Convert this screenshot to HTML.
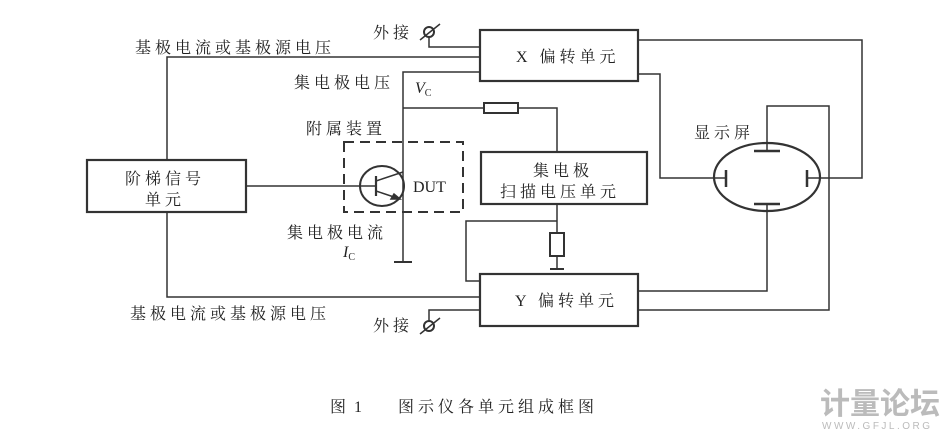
<!DOCTYPE html>
<html><head><meta charset="utf-8"><style>
body{margin:0;background:#fff}
svg{display:block}
text{font-family:"Liberation Serif","Noto Serif CJK SC","Noto Sans CJK SC",serif;fill:#222}
</style></head><body>
<svg width="947" height="435" viewBox="0 0 947 435" xmlns="http://www.w3.org/2000/svg">
<g fill="none" stroke="#333" stroke-width="1.5">
<rect x="87" y="160" width="159" height="52" stroke-width="2.2"/>
<rect x="480" y="30" width="158" height="51" stroke-width="2.2"/>
<rect x="481" y="152" width="166" height="52" stroke-width="2.2"/>
<rect x="480" y="274" width="158" height="52" stroke-width="2.2"/>
<polyline points="480,57 167,57 167,160"/>
<polyline points="167,212 167,297 480,297"/>
<line x1="246" y1="186" x2="376" y2="186"/>
<polyline points="480,72 403,72 403,262"/>
<line x1="394" y1="262" x2="412" y2="262" stroke-width="2"/>
<polyline points="403,108 484,108"/>
<rect x="484" y="103" width="34" height="10" stroke-width="2"/>
<polyline points="518,108 557,108 557,152"/>
<polyline points="557,204 557,233"/>
<polyline points="557,221 466,221 466,281 480,281"/>
<rect x="550" y="233" width="14" height="23" stroke-width="2"/>
<line x1="557" y1="256" x2="557" y2="269"/>
<line x1="550" y1="269" x2="564" y2="269" stroke-width="2"/>
<polyline points="429,37 429,47 480,47"/>
<polyline points="429,321 429,310 480,310"/>
<circle cx="429" cy="32" r="5" stroke-width="2"/>
<line x1="420" y1="40" x2="440" y2="24"/>
<circle cx="429" cy="326" r="5" stroke-width="2"/>
<line x1="420" y1="334" x2="440" y2="318"/>
<rect x="344" y="142" width="119" height="70" stroke-dasharray="10,6" stroke-width="2"/>
<ellipse cx="382" cy="186" rx="22" ry="20" stroke-width="2"/>
<line x1="376" y1="176" x2="376" y2="196" stroke-width="2.2"/>
<line x1="376" y1="181" x2="403" y2="172"/>
<line x1="376" y1="191" x2="400" y2="199"/>
<polygon points="400,199 391,199 394,194" fill="#333"/>
<polyline points="638,40 862,40 862,178 808,178"/>
<polyline points="638,74 660,74 660,178 726,178"/>
<ellipse cx="767" cy="177" rx="53" ry="34" stroke-width="2.2"/>
<line x1="726" y1="170" x2="726" y2="187" stroke-width="2.5"/>
<line x1="807" y1="170" x2="807" y2="187" stroke-width="2.5"/>
<line x1="754" y1="151" x2="780" y2="151" stroke-width="2.5"/>
<line x1="754" y1="204" x2="780" y2="204" stroke-width="2.5"/>
<polyline points="767,151 767,106 829,106 829,310 638,310"/>
<polyline points="767,204 767,291 638,291"/>
</g>
<g font-size="16" letter-spacing="4">
<text x="135" y="53">基极电流或基极源电压</text>
<text x="130" y="319">基极电流或基极源电压</text>
<text x="373" y="38">外接</text>
<text x="373" y="331">外接</text>
<text x="294" y="88">集电极电压</text>
<text x="415" y="93" font-style="italic" letter-spacing="0">V<tspan font-size="10" font-style="normal" dy="3">C</tspan></text>
<text x="306" y="134">附属装置</text>
<text x="287" y="238">集电极电流</text>
<text x="343" y="257" font-style="italic" letter-spacing="0">I<tspan font-size="10" font-style="normal" dy="3">C</tspan></text>
<text x="413" y="192" font-family="Liberation Serif,serif" letter-spacing="0">DUT</text>
<text x="125" y="184">阶梯信号</text>
<text x="145" y="205">单元</text>
<text x="516" y="62">X 偏转单元</text>
<text x="515" y="306">Y 偏转单元</text>
<text x="533" y="176">集电极</text>
<text x="500" y="197">扫描电压单元</text>
<text x="694" y="138">显示屏</text>
<text x="330" y="412" letter-spacing="2">图 1</text>
<text x="398" y="412">图示仪各单元组成框图</text>
</g>
<text x="820" y="414" font-size="30" style="fill:#bbb;font-family:'Noto Sans CJK SC',sans-serif" font-weight="bold">计量论坛</text>
<text x="822" y="429" font-size="10" style="fill:#bbb;font-family:'Liberation Sans',sans-serif" letter-spacing="2.5">WWW.GFJL.ORG</text>
</svg>
</body></html>
